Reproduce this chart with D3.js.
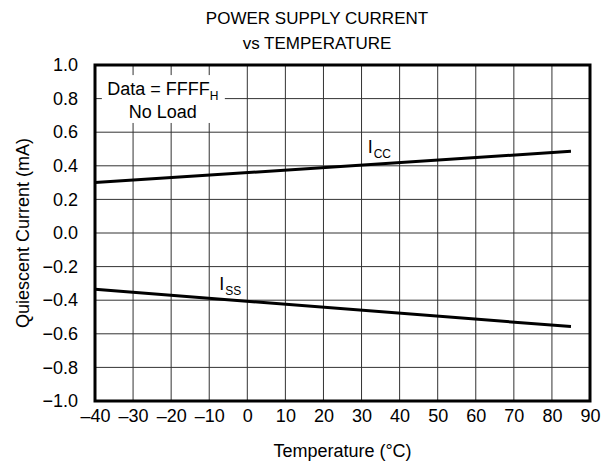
<!DOCTYPE html>
<html>
<head>
<meta charset="utf-8">
<script src="https://cdn.jsdelivr.net/npm/d3@7"></script>
<style>
  body { margin: 0; background: #fff; }
  text { font-family: "Liberation Sans", Arial, sans-serif; fill: #000; }
</style>
</head>
<body>
<div id="wrapper"></div>
<script>
// data
const temps = [-40, 85];
const iccValues = [0.30, 0.486];
const issValues = [-0.335, -0.557];
const xTicks = [-40, -30, -20, -10, 0, 10, 20, 30, 40, 50, 60, 70, 80, 90];
const yTicks = [-1.0, -0.8, -0.6, -0.4, -0.2, 0.0, 0.2, 0.4, 0.6, 0.8, 1.0];

function drawChart() {
  let dimensions = {
    width: 601,
    height: 466,
    margin: { top: 65, right: 11, bottom: 65, left: 95 },
  };
  dimensions.boundedWidth =
    dimensions.width - dimensions.margin.left - dimensions.margin.right;
  dimensions.boundedHeight =
    dimensions.height - dimensions.margin.top - dimensions.margin.bottom;

  const wrapper = d3
    .select("#wrapper")
    .append("svg")
    .attr("width", dimensions.width)
    .attr("height", dimensions.height);

  const bounds = wrapper
    .append("g")
    .attr("transform", `translate(${dimensions.margin.left},${dimensions.margin.top})`);

  const xScale = d3.scaleLinear().domain([-40, 90]).range([0, dimensions.boundedWidth]);
  const yScale = d3.scaleLinear().domain([-1, 1]).range([dimensions.boundedHeight, 0]);

  const minus = (s) => s.replace("-", "\u2013");

  // grid
  bounds.append("g")
    .selectAll("line")
    .data(xTicks)
    .join("line")
    .attr("x1", (d) => xScale(d))
    .attr("x2", (d) => xScale(d))
    .attr("y1", 0)
    .attr("y2", dimensions.boundedHeight)
    .attr("stroke", "#333")
    .attr("stroke-width", 1);

  bounds.append("g")
    .selectAll("line")
    .data(yTicks)
    .join("line")
    .attr("x1", 0)
    .attr("x2", dimensions.boundedWidth)
    .attr("y1", (d) => yScale(d))
    .attr("y2", (d) => yScale(d))
    .attr("stroke", "#333")
    .attr("stroke-width", 1);

  // legend box covering the grid
  bounds.append("rect")
    .attr("x", xScale(-38.2))
    .attr("y", yScale(0.94))
    .attr("width", xScale(-5.9) - xScale(-38.2))
    .attr("height", yScale(0.655) - yScale(0.94))
    .attr("fill", "#fff");

  const legendText = bounds.append("text")
    .attr("x", xScale(-22.2))
    .attr("y", yScale(0.821))
    .attr("text-anchor", "middle")
    .style("font-size", "18px");
  legendText.append("tspan").text("Data = FFFF");
  legendText.append("tspan").attr("dy", 5).style("font-size", "12px").text("H");

  bounds.append("text")
    .attr("x", xScale(-22.2))
    .attr("y", yScale(0.685))
    .attr("text-anchor", "middle")
    .style("font-size", "18px")
    .text("No Load");

  // lines
  const lineGenerator = (values) =>
    d3.line()
      .x((d, i) => xScale(temps[i]))
      .y((d) => yScale(d))(values);

  bounds.append("path")
    .attr("d", lineGenerator(iccValues))
    .attr("fill", "none")
    .attr("stroke", "#000")
    .attr("stroke-width", 3);

  bounds.append("path")
    .attr("d", lineGenerator(issValues))
    .attr("fill", "none")
    .attr("stroke", "#000")
    .attr("stroke-width", 3);

  // series labels
  const addLabel = (x, y, main, sub) => {
    const t = bounds.append("text")
      .attr("x", xScale(x))
      .attr("y", yScale(y))
      .style("font-size", "18px");
    t.append("tspan").text(main);
    t.append("tspan").attr("dy", 5).attr("dx", 1).style("font-size", "12px").text(sub);
  };
  addLabel(31.6, 0.476, "I", "CC");
  addLabel(-7.4, -0.339, "I", "SS");

  // frame
  bounds.append("rect")
    .attr("width", dimensions.boundedWidth)
    .attr("height", dimensions.boundedHeight)
    .attr("fill", "none")
    .attr("stroke", "#000")
    .attr("stroke-width", 3);

  // axes
  const yAxis = bounds.append("g")
    .call(d3.axisLeft(yScale).tickValues(yTicks).tickSize(0).tickPadding(17)
      .tickFormat((d) => minus(d3.format(".1f")(d))));
  yAxis.select(".domain").remove();
  yAxis.selectAll("text")
    .style("font-size", "18px")
    .style("font-family", '"Liberation Sans", Arial, sans-serif')
    .attr("fill", "#000");

  const xAxis = bounds.append("g")
    .attr("transform", `translate(0,${dimensions.boundedHeight})`)
    .call(d3.axisBottom(xScale).tickValues(xTicks).tickSize(0)
      .tickFormat((d) => minus(String(d))));
  xAxis.select(".domain").remove();
  xAxis.selectAll("text")
    .attr("y", 21)
    .attr("dy", 0)
    .style("font-size", "18px")
    .style("font-family", '"Liberation Sans", Arial, sans-serif')
    .attr("fill", "#000");

  // axis titles
  bounds.append("text")
    .attr("x", dimensions.boundedWidth / 2)
    .attr("y", dimensions.boundedHeight + 56)
    .attr("text-anchor", "middle")
    .style("font-size", "18px")
    .text("Temperature (\u00B0C)");

  bounds.append("text")
    .attr("transform", `translate(${-66},${dimensions.boundedHeight / 2}) rotate(-90)`)
    .attr("text-anchor", "middle")
    .style("font-size", "18px")
    .text("Quiescent Current (mA)");

  // title
  wrapper.append("text")
    .attr("x", 317)
    .attr("y", 24)
    .attr("text-anchor", "middle")
    .style("font-size", "17px")
    .text("POWER SUPPLY CURRENT");
  wrapper.append("text")
    .attr("x", 317)
    .attr("y", 49)
    .attr("text-anchor", "middle")
    .style("font-size", "17px")
    .text("vs TEMPERATURE");
}

drawChart();
</script>
</body>
</html>
